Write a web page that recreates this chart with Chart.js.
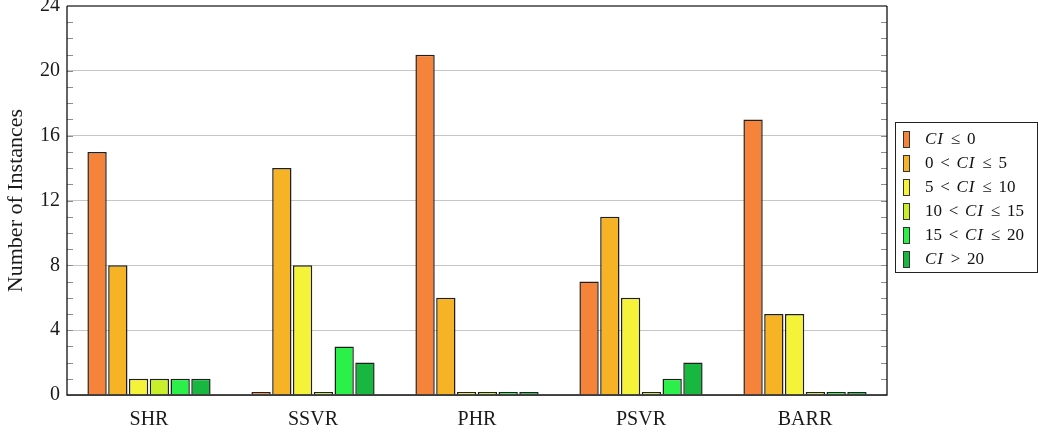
<!DOCTYPE html>
<html>
<head>
<meta charset="utf-8">
<script src="https://cdn.jsdelivr.net/npm/chart.js@4"></script>
<style>
  html, body { margin: 0; padding: 0; background: #fff; }
  #wrap { position: relative; width: 1038px; height: 434px; }
  #legend {
    position: absolute; left: 895px; top: 122px; width: 143px; height: 151px;
    border: 1px solid #222; box-sizing: border-box; padding-top: 4px;
    font-family: "Liberation Serif", "DejaVu Serif", serif; font-size: 17px; color: #111;
  }
  .item { display: flex; align-items: center; height: 24px; white-space: nowrap; }
  .sw { width: 5px; height: 15px; border: 1px solid #333; margin-left: 7px; margin-right: 15px; }
  .rel { display: inline-block; width: 13px; text-align: center; margin: 0 5px; }
  .ci { font-style: italic; letter-spacing: 1px; }
</style>
</head>
<body>
<div id="wrap">
  <canvas id="c" width="1038" height="434"></canvas>
  <div id="legend"></div>
</div>
<script>
// Benchmarks and confidence-interval buckets
const categories = ['SHR', 'SSVR', 'PHR', 'PSVR', 'BARR'];
const seriesLabels = ['CI ≤ 0', '0 < CI ≤ 5', '5 < CI ≤ 10', '10 < CI ≤ 15', '15 < CI ≤ 20', 'CI > 20'];
const seriesColors = ['#F5843A', '#F5B325', '#F5F23A', '#C8F02A', '#2BF04A', '#18B840'];

// Number of instances per bucket
const ciLe0    = [15, 0, 21, 7, 17];
const ci0to5   = [8, 14, 6, 11, 5];
const ci5to10  = [1, 8, 0, 6, 5];
const ci10to15 = [1, 0, 0, 0, 0];
const ci15to20 = [1, 3, 0, 1, 0];
const ciGt20   = [1, 2, 0, 2, 0];

const yMin = 0, yMax = 24, yStep = 4;

const serif = '"Liberation Serif", "DejaVu Serif", serif';
const seriesValues = [ciLe0, ci0to5, ci5to10, ci10to15, ci15to20, ciGt20];

const datasets = seriesValues.map((vals, i) => ({
  label: seriesLabels[i],
  data: vals,
  backgroundColor: seriesColors[i],
  borderColor: '#202020',
  borderWidth: 1.5,
  minBarLength: 3,
  categoryPercentage: 0.76,
  barPercentage: 0.93
}));

// Minor ticks on both vertical axes, and the plot frame
const framePlugin = {
  id: 'frame',
  beforeDatasetsDraw(chart) {
    const { ctx, chartArea: a, scales: { y } } = chart;
    ctx.save();
    ctx.strokeStyle = '#8c8c8c';
    ctx.lineWidth = 1;
    for (let v = yMin + 1; v < yMax; v++) {
      const py = Math.round(y.getPixelForValue(v)) + 0.5;
      ctx.beginPath();
      ctx.moveTo(a.left, py); ctx.lineTo(a.left + 6, py);
      ctx.moveTo(a.right, py); ctx.lineTo(a.right - 6, py);
      ctx.stroke();
    }
    ctx.restore();
  },
  afterDatasetsDraw(chart) {
    const { ctx, chartArea: a } = chart;
    ctx.save();
    ctx.strokeStyle = '#707070';
    ctx.lineWidth = 2;
    ctx.beginPath();
    ctx.moveTo(a.left, a.top); ctx.lineTo(a.right, a.top);
    ctx.stroke();
    ctx.strokeStyle = '#111';
    ctx.lineWidth = 1.3;
    ctx.beginPath();
    ctx.moveTo(a.left, a.top); ctx.lineTo(a.left, a.bottom);
    ctx.lineTo(a.right, a.bottom); ctx.lineTo(a.right, a.top);
    ctx.stroke();
    ctx.restore();
  }
};

const chart = new Chart(document.getElementById('c'), {
  type: 'bar',
  data: { labels: categories, datasets },
  plugins: [framePlugin],
  options: {
    responsive: false,
    animation: false,
    layout: { padding: { top: 6, right: 151, left: 0, bottom: 0 } },
    plugins: { legend: { display: false }, tooltip: { enabled: false } },
    scales: {
      x: {
        offset: true,
        grid: { display: false, drawTicks: false },
        border: { display: false },
        ticks: { font: { family: serif, size: 20 }, color: '#1a1a1a', padding: 13 },
        afterFit(s) { s.height = 39; s.paddingLeft = 0; s.paddingRight = 0; }
      },
      y: {
        min: yMin, max: yMax,
        grid: { color: '#c6c6c6', drawTicks: false },
        border: { display: false },
        ticks: { stepSize: yStep, font: { family: serif, size: 20 }, color: '#1a1a1a', padding: 7 },
        title: {
          display: true, text: 'Number of Instances',
          font: { family: serif, size: 22 }, color: '#1a1a1a',
          padding: { top: 3, bottom: 0 }
        },
        afterFit(s) { s.width = 67; s.paddingTop = 0; s.paddingBottom = 0; }
      }
    }
  }
});

// Legend built from the chart's datasets
const legend = document.getElementById('legend');
chart.data.datasets.forEach(ds => {
  const item = document.createElement('div');
  item.className = 'item';
  const sw = document.createElement('span');
  sw.className = 'sw';
  sw.style.background = ds.backgroundColor;
  const txt = document.createElement('span');
  txt.innerHTML = ds.label
    .split(' ')
    .map(t => t === 'CI' ? '<span class="ci">CI</span>' : (/^[<>≤]$/.test(t) ? '<span class="rel">' + t + '</span>' : t))
    .join('');
  item.appendChild(sw);
  item.appendChild(txt);
  legend.appendChild(item);
});
</script>
</body>
</html>
